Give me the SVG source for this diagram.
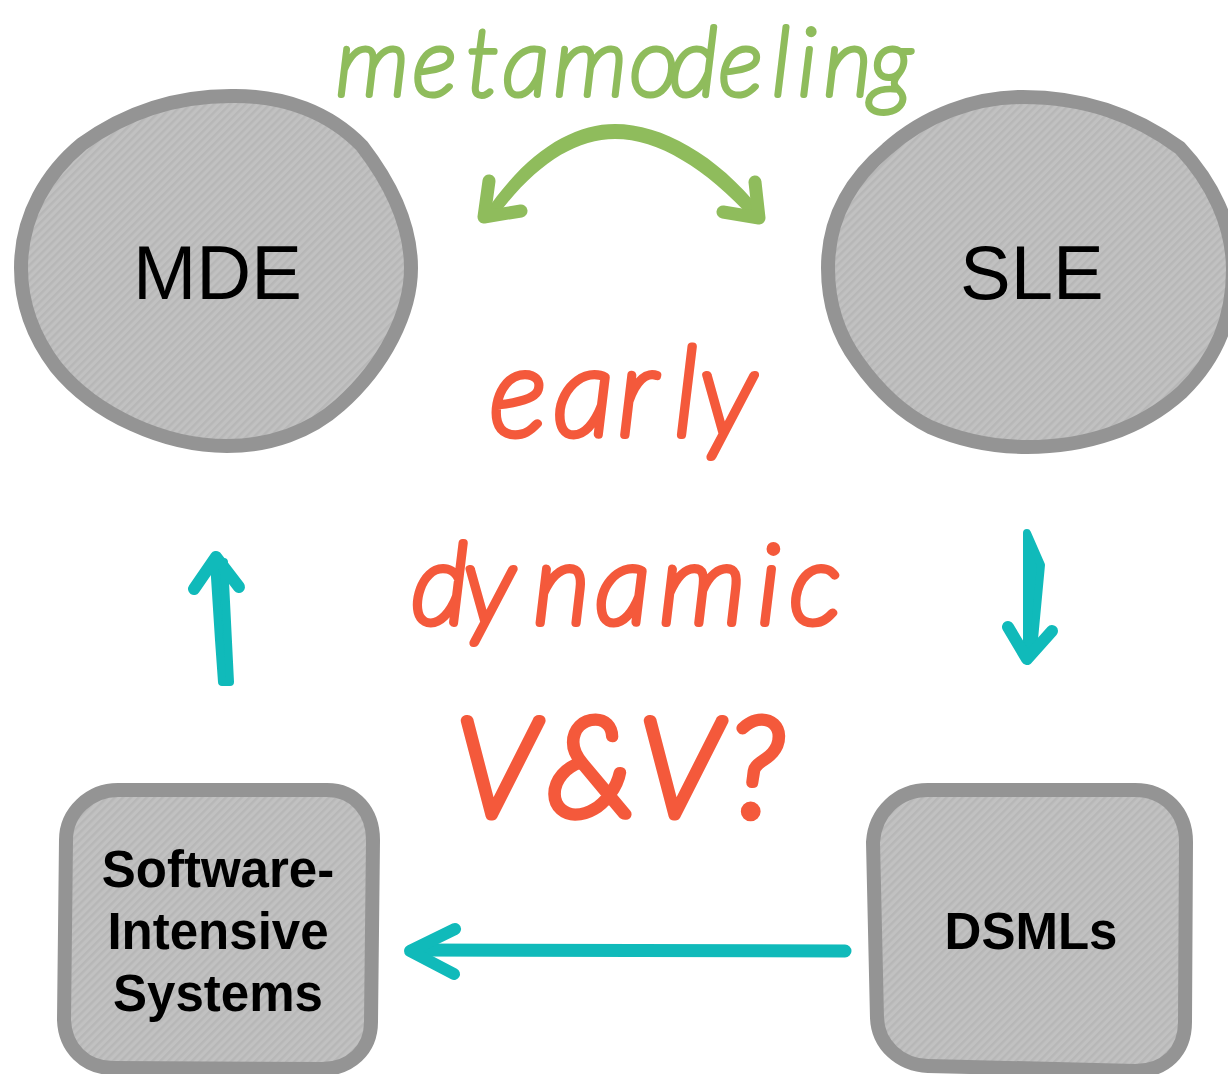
<svg xmlns="http://www.w3.org/2000/svg" width="1228" height="1074" viewBox="0 0 1228 1074">
<defs>
<pattern id="hatch" width="5.6" height="5.6" patternUnits="userSpaceOnUse" patternTransform="rotate(45)">
<rect width="5.6" height="5.6" fill="#c1c1c1"/>
<rect width="2.4" height="5.6" fill="#b7b7b7"/>
</pattern>
</defs>
<style>
.shape{fill:url(#hatch);stroke:#949494;stroke-width:14;stroke-linejoin:round}
.big{font-family:"Liberation Sans",Arial,sans-serif;font-size:76px;fill:#000}
.bold{font-family:"Liberation Sans",Arial,sans-serif;font-size:51px;font-weight:700;fill:#000;text-anchor:middle}
.hand{font-family:Lato,"Open Sans",sans-serif;font-style:italic;font-weight:100;stroke-linejoin:round;stroke-linecap:round}
.green{fill:#8fbc5c;stroke:#8fbc5c}
.red{fill:#f4593b;stroke:#f4593b}
.gl{fill:none;stroke:#8fbc5c;stroke-width:13;stroke-linecap:round;stroke-linejoin:round}
.tl{fill:none;stroke:#10baba;stroke-width:12;stroke-linecap:round;stroke-linejoin:round}
.tf{fill:#10baba;stroke:#10baba;stroke-width:8;stroke-linejoin:round;stroke-linecap:round}
</style>
<rect width="1228" height="1074" fill="#fff"/>
<g id="connectors">
<g id="metamodeling-arrow">
<path d="M484,214 C526,152 572,124 615,124 C662,124 717,155 761,210 L752,219 C705,168 658,139 615,139 C575,139 535,165 497,216 Z" fill="#8fbc5c"/>
<path class="gl" d="M489,181 L484,217 L521,211"/>
<path class="gl" d="M755,182 L759,218 L723,212"/>
</g>
<g id="sle-dsml-arrow">
<path class="tf" d="M1027,533 L1041,565 L1033,650 L1027,650 Z"/>
<path class="tl" d="M1008,627 L1027,659 L1052,631"/>
</g>
<g id="dsml-sis-arrow">
<path class="tl" style="stroke-width:13" d="M845,951 L415,950"/>
<path class="tl" d="M455,929 L410,951 L454,974"/>
</g>
<g id="sis-mde-arrow">
<path class="tf" d="M214,562 L219,640 L222,682 L230,682 L224,562 Z"/>
<path class="tl" d="M194,589 L216,557 L239,587"/>
</g>
</g>
<g id="mde">
<path class="shape" d="M231,96 C285,95 330,113 362,146 C392,185 411,225 411,268 C411,312 385,365 340,405 C310,432 270,446 227,446 C165,446 95,415 56,367 C34,338 21,305 21,268 C21,215 48,172 82,144 C125,113 175,96 231,96 Z"/>
<text class="big" x="133" y="299">MDE</text>
</g>
<g id="sle">
<path class="shape" d="M1023,97 C1085,97 1135,115 1180,148 C1212,182 1233,225 1233,270 C1233,320 1215,360 1182,392 C1140,430 1085,447 1027,447 C990,447 960,440 930,427 C900,412 878,390 858,362 C838,335 828,305 828,268 C828,220 850,180 887,149 C925,115 975,97 1023,97 Z"/>
<text class="big" x="960" y="299">SLE</text>
</g>
<g id="software-intensive-systems">
<path class="shape" d="M118,790 L327,790 C355,790 373,812 373,840 L371,1022 C371,1050 350,1069 322,1069 L113,1068 C85,1068 65,1048 64,1020 L66,840 C66,812 90,790 118,790 Z"/>
<text class="bold" x="218" y="887">Software-</text>
<text class="bold" x="218" y="949">Intensive</text>
<text class="bold" x="218" y="1011">Systems</text>
</g>
<g id="dsmls">
<path class="shape" d="M928,790 L1135,790 C1165,790 1186,812 1186,842 L1185,1022 C1185,1052 1165,1071 1135,1071 L928,1066 C900,1065 878,1045 877,1018 L873,842 C875,812 898,790 928,790 Z"/>
<text class="bold" x="1031" y="949">DSMLs</text>
</g>
<g id="labels">
<text class="hand green" font-size="94" stroke-width="6" x="336 413 467 503 554 630 670 719 772 798 824 870" y="95">metamodeling</text>
<text class="hand red" font-size="122" stroke-width="8" x="490 554 618 674 700" y="435">early</text>
<text class="hand red" font-size="110" stroke-width="8" x="412 464 534 596 660 758 790" y="623">dynamic</text>
<text class="hand red" font-size="135" stroke-width="11" x="457 548 640 730" y="815">V&amp;V?</text>
</g>
</svg>
